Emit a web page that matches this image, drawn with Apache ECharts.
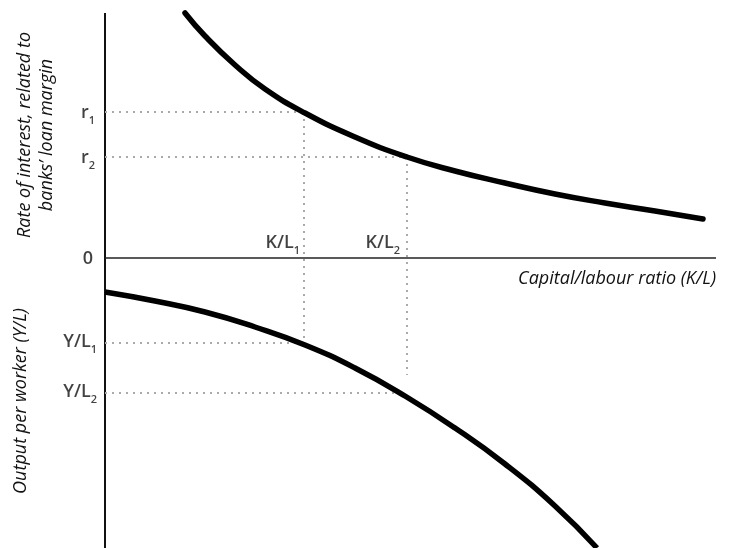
<!DOCTYPE html>
<html><head><meta charset="utf-8">
<script src="https://cdn.jsdelivr.net/npm/echarts@6/dist/echarts.min.js"></script>
<style>html,body{margin:0;padding:0;background:#fff}#c{width:731px;height:548px}</style>
</head><body><div id="c"></div>
<script>
// Conceptual diagram values (arbitrary units; origin where axes cross)
const rateCurveX = [80, 100, 130, 160, 200, 250, 302, 350, 400, 450, 500, 550, 598];
const rateCurveY = [245, 222, 193, 169, 145, 121, 101, 87, 75, 64, 55, 47, 39];
const outputCurveX = [0, 50, 100, 150, 200, 250, 300, 350, 400, 450, 492];
const outputCurveY = [-34, -43, -54, -69, -87, -110, -138, -170, -206, -248, -290];
const r1 = 146, r2 = 101;
const kl1 = 199, kl2 = 302;
const yl1 = -85, yl2 = -135;
const yl2End = 290;
const xMax = 613, yTop = 245, yBottom = -290;

const font = 'Open Sans';
const zip = (a, b) => a.map((v, i) => [v, b[i]]);
const black = '#000';
const dotStyle = {color: '#aaaaaa', width: 2, type: [2, 5]};

function seg(data, style) {
  return {type: 'line', data: data, symbol: 'none', silent: true, clip: false,
          lineStyle: style, z: 2};
}
function lbl(x, y, main, sub, pos, dist, off) {
  return {value: [x, y], label: {show: true, position: pos, distance: dist, offset: off || [0, 0],
    formatter: sub ? '{m|' + main + '}{s|' + sub + '}' : '{m|' + main + '}',
    rich: {m: {fontFamily: font, fontSize: 18, fontWeight: 600, color: '#111', verticalAlign: 'bottom', lineHeight: 20},
           s: {fontFamily: font, fontSize: 11, fontWeight: 600, color: '#111', verticalAlign: 'bottom', lineHeight: 12, padding: [0, 0, -4, 0]}}}};
}

const chart = echarts.init(document.getElementById('c'));
chart.setOption({
  animation: false,
  grid: {left: 105, right: 13, top: 10, bottom: 0},
  xAxis: {type: 'value', min: 0, max: xMax, show: false},
  yAxis: {type: 'value', min: yBottom, max: 248, show: false},
  graphic: [
    {type: 'text', x: 14, y: 135, rotation: Math.PI / 2, style: {
      text: 'Rate of interest, related to\nbanks\u2019 loan margin', fontFamily: font, fontStyle: 'italic',
      fontSize: 18, lineHeight: 22, fill: '#111', align: 'center', verticalAlign: 'top'}},
    {type: 'text', x: 12, y: 401, rotation: Math.PI / 2, style: {
      text: 'Output per worker (Y/L)', fontFamily: font, fontStyle: 'italic',
      fontSize: 18, fill: '#111', align: 'center', verticalAlign: 'top'}},
    {type: 'text', x: 716, y: 270, style: {
      text: 'Capital/labour ratio (K/L)', fontFamily: font, fontStyle: 'italic',
      fontSize: 18, fill: '#111', align: 'right', verticalAlign: 'top'}}
  ],
  series: [
    // axes
    seg([[0, yTop], [0, yBottom]], {color: '#111', width: 2}),
    seg([[0, 0], [xMax - 2, 0]], {color: '#222', width: 1.5}),
    // dotted guides
    seg([[0, r1], [kl1, r1]], dotStyle),
    seg([[0, r2], [kl2, r2]], dotStyle),
    seg([[kl1, r1], [kl1, yl1]], dotStyle),
    seg([[kl2, r2], [kl2, -117]], dotStyle),
    seg([[0, yl1], [kl1, yl1]], dotStyle),
    seg([[0, yl2], [yl2End, yl2]], dotStyle),
    // curves
    {type: 'line', data: zip(rateCurveX, rateCurveY), smooth: true, symbol: 'none', clip: false,
     lineStyle: {color: black, width: 5.5, cap: 'round'}, z: 3},
    {type: 'line', data: zip(outputCurveX, outputCurveY), smooth: true, symbol: 'none', clip: false,
     lineStyle: {color: black, width: 5.5}, z: 3},
    // labels
    {type: 'scatter', symbolSize: 0, silent: true, z: 4, clip: false, data: [
      lbl(0, 0, '0', '', 'left', 12, [0, 0]),
      lbl(0, r1, 'r', '1', 'left', 10, [0, 0]),
      lbl(0, r2, 'r', '2', 'left', 10, [0, 0]),
      lbl(kl1, 0, 'K/L', '1', 'left', 4, [0, -16]),
      lbl(kl2, 0, 'K/L', '2', 'left', 7, [0, -16]),
      lbl(0, yl1, 'Y/L', '1', 'left', 8, [0, -2]),
      lbl(0, yl2, 'Y/L', '2', 'left', 8, [0, -2])
    ]}
  ]
});
</script></body></html>
